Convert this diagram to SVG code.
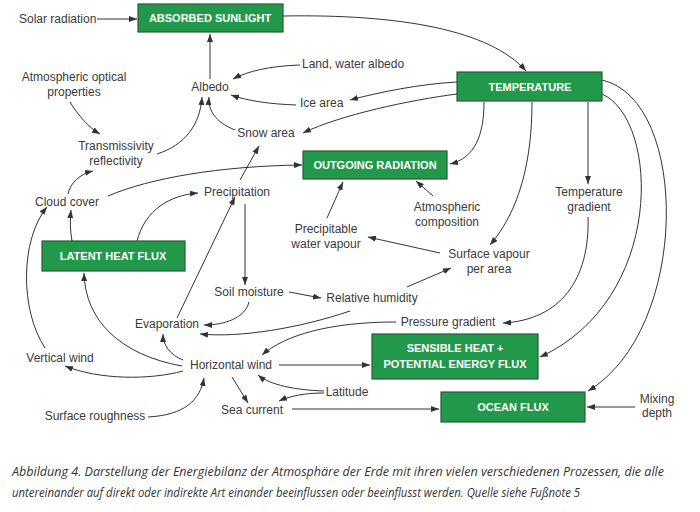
<svg xmlns="http://www.w3.org/2000/svg" width="700" height="512" viewBox="0 0 700 512">
<defs>
<marker id="ah" markerUnits="userSpaceOnUse" markerWidth="9" markerHeight="6" refX="8" refY="3" orient="auto">
<path d="M0,0 L8,3 L0,6 z" fill="#333"/>
</marker>
<style>
.box{fill:#22994a;stroke:#2c5a38;stroke-width:1.2}
.bt{font-family:"Liberation Sans",Arial,sans-serif;font-size:11px;font-weight:bold;fill:#fff;text-anchor:middle}
.lb{font-family:"Liberation Sans",Arial,sans-serif;font-size:12px;fill:#3a3a3a;text-anchor:middle}
.ls{text-anchor:start}
.c path{fill:none;stroke:#333;stroke-width:1;marker-end:url(#ah)}
.cap{font-family:"Open Sans","Noto Sans",sans-serif;font-style:italic;font-size:12px;fill:#333}
</style>
</defs>
<rect width="700" height="512" fill="#fff"/>

<g class="c" id="connectors">
<path d="M97,19 L137,19"/>
<path d="M283,16 C400,14 490,30 526,71"/>
<path d="M210,79 L210,34"/>
<path d="M300,65 C270,66 248,71 233,79"/>
<path d="M296,105 C270,104 248,101 231,95"/>
<path d="M457,82 C420,84 380,92 350,100"/>
<path d="M457,94 C410,100 340,115 303,133"/>
<path d="M235,130 C215,122 208,110 209,97"/>
<path d="M157,154 C185,145 200,125 202,97"/>
<path d="M70,102 C78,115 88,127 100,134"/>
<path d="M68,194 C70,183 80,174 93,171"/>
<path d="M108,196 C150,178 220,166 302,165"/>
<path d="M240,180 L259,146"/>
<path d="M177,318 L235,197"/>
<path d="M72,241 C70,230 70,220 71,210"/>
<path d="M137,241 C145,210 170,195 198,193"/>
<path d="M245,204 L245,285"/>
<path d="M289,292 L321,298"/>
<path d="M249,302 C245,318 225,325 204,325"/>
<path d="M407,287 L451,268"/>
<path d="M440,253 L368,237"/>
<path d="M327,218 L343,182"/>
<path d="M433,196 L416,181"/>
<path d="M484,102 C484,135 475,158 450,164"/>
<path d="M532,102 C532,160 520,210 490,245"/>
<path d="M588,102 L588,184"/>
<path d="M588,217 C590,280 560,320 503,323"/>
<path d="M602,94 C660,120 665,300 540,357"/>
<path d="M602,80 C690,100 690,330 588,391"/>
<path d="M635,407 L587,407"/>
<path d="M350,311 C300,328 240,338 200,334"/>
<path d="M396,322 C330,322 285,335 262,355"/>
<path d="M279,365 L370,365"/>
<path d="M183,360 C170,355 163,345 163,334"/>
<path d="M183,371 C150,380 100,380 65,366"/>
<path d="M182,366 C120,355 85,320 84,273"/>
<path d="M45,348 C20,310 20,240 47,207"/>
<path d="M148,417 C185,415 200,400 204,378"/>
<path d="M232,377 L248,403"/>
<path d="M324,391 C295,390 270,385 258,375"/>
<path d="M324,393 C305,393 290,396 279,401"/>
<path d="M292,409 L439,409"/>
</g>

<g id="absorbed"><rect class="box" x="138" y="4" width="145" height="28"/><text class="bt" x="210" y="22">ABSORBED SUNLIGHT</text></g>
<g id="temperature"><rect class="box" x="457" y="72" width="145" height="29"/><text class="bt" x="530" y="91">TEMPERATURE</text></g>
<g id="outgoing"><rect class="box" x="303" y="151" width="144" height="28"/><text class="bt" x="375" y="169">OUTGOING RADIATION</text></g>
<g id="latent"><rect class="box" x="42" y="241" width="143" height="30"/><text class="bt" x="113" y="260">LATENT HEAT FLUX</text></g>
<g id="sensible"><rect class="box" x="372" y="334" width="166" height="45"/><text class="bt" x="455" y="352">SENSIBLE HEAT +</text><text class="bt" x="455" y="368">POTENTIAL ENERGY FLUX</text></g>
<g id="ocean"><rect class="box" x="441" y="392" width="144" height="30"/><text class="bt" x="513" y="411">OCEAN FLUX</text></g>

<g id="solar"><text class="lb ls" x="19" y="23">Solar radiation</text></g>
<g id="atmoptical"><text class="lb" x="74" y="81">Atmospheric optical</text><text class="lb" x="74" y="96">properties</text></g>
<g id="albedo"><text class="lb" x="210" y="91">Albedo</text></g>
<g id="landwater"><text class="lb ls" x="302" y="68">Land, water albedo</text></g>
<g id="icearea"><text class="lb ls" x="300" y="107">Ice area</text></g>
<g id="snowarea"><text class="lb" x="266" y="137">Snow area</text></g>
<g id="transmissivity"><text class="lb" x="116" y="150">Transmissivity</text><text class="lb" x="116" y="165">reflectivity</text></g>
<g id="cloudcover"><text class="lb" x="67" y="206">Cloud cover</text></g>
<g id="precipitation"><text class="lb" x="237" y="196">Precipitation</text></g>
<g id="precipitable"><text class="lb" x="326" y="233">Precipitable</text><text class="lb" x="326" y="248">water vapour</text></g>
<g id="atmcomp"><text class="lb" x="447" y="211">Atmospheric</text><text class="lb" x="447" y="226">composition</text></g>
<g id="tempgrad"><text class="lb" x="589" y="196">Temperature</text><text class="lb" x="589" y="211">gradient</text></g>
<g id="surfvapour"><text class="lb" x="489" y="258">Surface vapour</text><text class="lb" x="489" y="273">per area</text></g>
<g id="soilmoisture"><text class="lb" x="249" y="296">Soil moisture</text></g>
<g id="relhum"><text class="lb" x="372" y="302">Relative humidity</text></g>
<g id="evaporation"><text class="lb" x="167" y="328">Evaporation</text></g>
<g id="pressgrad"><text class="lb" x="448" y="326">Pressure gradient</text></g>
<g id="vertwind"><text class="lb" x="60" y="362">Vertical wind</text></g>
<g id="horizwind"><text class="lb" x="231" y="369">Horizontal wind</text></g>
<g id="latitude"><text class="lb" x="347" y="396">Latitude</text></g>
<g id="seacurrent"><text class="lb" x="252" y="414">Sea current</text></g>
<g id="surfrough"><text class="lb" x="95" y="420">Surface roughness</text></g>
<g id="mixing"><text class="lb" x="657" y="403">Mixing</text><text class="lb" x="657" y="417">depth</text></g>

<g id="caption">
<text class="cap" x="12" y="476" textLength="652" lengthAdjust="spacingAndGlyphs">Abbildung 4. Darstellung der Energiebilanz der Atmosphäre der Erde mit ihren vielen verschiedenen Prozessen, die alle</text>
<text class="cap" x="12" y="497" textLength="568" lengthAdjust="spacingAndGlyphs">untereinander auf direkt oder indirekte Art einander beeinflussen oder beeinflusst werden. Quelle siehe Fußnote 5</text>
</g>
</svg>
